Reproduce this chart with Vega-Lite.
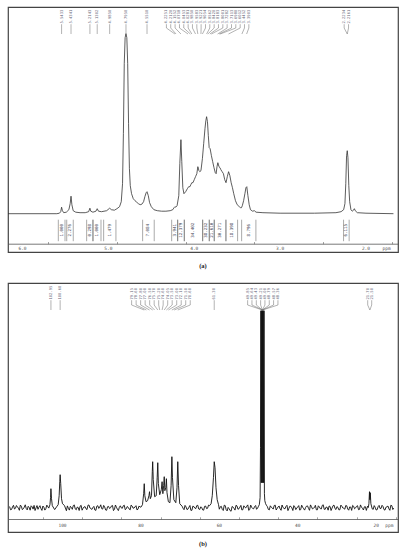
{
  "$schema": "https://vega.github.io/schema/vega-lite/v6.json",
  "padding": {"left": 7, "top": 6, "right": 0, "bottom": 0},
  "background": "white",
  "config": {
    "view": {"stroke": "#444", "strokeWidth": 1.2},
    "title": {"font": "Liberation Serif", "fontWeight": "bold", "fontSize": 6.5, "color": "#222"}
  },
  "spacing": 11,
  "datasets": {
    "specA": [
      {"p":6.17,"v":0},{"p":5.6,"v":0},{"p":5.57,"v":0.5},{"p":5.555,"v":2},{"p":5.545,"v":6.5},{"p":5.535,"v":3},{"p":5.52,"v":1},{"p":5.49,"v":1.5},{"p":5.46,"v":4},{"p":5.445,"v":10},{"p":5.435,"v":17.5},{"p":5.425,"v":9},{"p":5.41,"v":3},{"p":5.38,"v":1.5},{"p":5.33,"v":1},{"p":5.27,"v":1},{"p":5.23,"v":2},{"p":5.215,"v":5.5},{"p":5.205,"v":2.5},{"p":5.18,"v":1.5},{"p":5.145,"v":2.5},{"p":5.13,"v":5},{"p":5.115,"v":2.5},{"p":5.08,"v":2},{"p":5.02,"v":3},{"p":4.985,"v":5.5},{"p":4.965,"v":4},{"p":4.93,"v":3.5},{"p":4.9,"v":5},{"p":4.87,"v":7},{"p":4.85,"v":12},{"p":4.835,"v":30},{"p":4.825,"v":80},{"p":4.815,"v":150},{"p":4.805,"v":176},{"p":4.795,"v":180},{"p":4.785,"v":176},{"p":4.775,"v":150},{"p":4.765,"v":90},{"p":4.755,"v":45},{"p":4.745,"v":28},{"p":4.73,"v":20},{"p":4.71,"v":15},{"p":4.69,"v":13},{"p":4.67,"v":11.5},{"p":4.65,"v":10},{"p":4.63,"v":9},{"p":4.61,"v":9.5},{"p":4.59,"v":12},{"p":4.575,"v":17},{"p":4.56,"v":21},{"p":4.55,"v":22},{"p":4.535,"v":18},{"p":4.52,"v":11},{"p":4.5,"v":7},{"p":4.47,"v":4},{"p":4.43,"v":3},{"p":4.38,"v":2.5},{"p":4.33,"v":2.5},{"p":4.28,"v":3},{"p":4.25,"v":4},{"p":4.235,"v":6},{"p":4.225,"v":7},{"p":4.215,"v":6.5},{"p":4.2,"v":8},{"p":4.18,"v":18},{"p":4.168,"v":50},{"p":4.155,"v":74},{"p":4.145,"v":52},{"p":4.133,"v":26},{"p":4.12,"v":20},{"p":4.1,"v":22},{"p":4.08,"v":25},{"p":4.065,"v":27},{"p":4.05,"v":27},{"p":4.04,"v":29},{"p":4.028,"v":31},{"p":4.015,"v":31},{"p":4.0,"v":34},{"p":3.985,"v":37},{"p":3.97,"v":40},{"p":3.958,"v":47},{"p":3.945,"v":43},{"p":3.935,"v":42},{"p":3.922,"v":43},{"p":3.905,"v":55},{"p":3.89,"v":70},{"p":3.875,"v":85},{"p":3.865,"v":93},{"p":3.856,"v":97},{"p":3.846,"v":92},{"p":3.836,"v":78},{"p":3.826,"v":66},{"p":3.815,"v":65},{"p":3.8,"v":58},{"p":3.785,"v":52},{"p":3.77,"v":46},{"p":3.755,"v":41},{"p":3.745,"v":40},{"p":3.735,"v":47},{"p":3.725,"v":51},{"p":3.712,"v":47},{"p":3.7,"v":46},{"p":3.69,"v":44},{"p":3.675,"v":42},{"p":3.66,"v":40},{"p":3.645,"v":34},{"p":3.63,"v":31},{"p":3.615,"v":37},{"p":3.6,"v":42},{"p":3.585,"v":38},{"p":3.57,"v":31},{"p":3.555,"v":26},{"p":3.54,"v":20},{"p":3.52,"v":13},{"p":3.5,"v":9},{"p":3.475,"v":7},{"p":3.46,"v":6},{"p":3.45,"v":6},{"p":3.44,"v":8},{"p":3.425,"v":13},{"p":3.41,"v":20},{"p":3.398,"v":26},{"p":3.388,"v":27},{"p":3.375,"v":18},{"p":3.36,"v":9},{"p":3.345,"v":4},{"p":3.32,"v":2.5},{"p":3.3,"v":3},{"p":3.28,"v":1.5},{"p":3.2,"v":1},{"p":3.0,"v":0.5},{"p":2.6,"v":0.5},{"p":2.35,"v":1},{"p":2.29,"v":2},{"p":2.26,"v":4},{"p":2.245,"v":10},{"p":2.235,"v":30},{"p":2.226,"v":58},{"p":2.218,"v":63},{"p":2.21,"v":56},{"p":2.2,"v":28},{"p":2.19,"v":12},{"p":2.175,"v":4},{"p":2.16,"v":2.5},{"p":2.145,"v":3.5},{"p":2.135,"v":5},{"p":2.125,"v":3},{"p":2.1,"v":1},{"p":2.0,"v":0.5},{"p":1.68,"v":0}
    ],
    "labA": [
      {"lx":5.545,"px":5.545,"t":"5.5433"},{"lx":5.435,"px":5.435,"t":"5.4341"},{"lx":5.215,"px":5.215,"t":"5.2143"},{"lx":5.13,"px":5.13,"t":"5.1302"},{"lx":4.985,"px":4.985,"t":"4.9850"},{"lx":4.795,"px":4.795,"t":"4.7950"},{"lx":4.55,"px":4.55,"t":"4.5510"},
      {"lx":4.324,"px":4.225,"t":"4.2251"},{"lx":4.274,"px":4.212,"t":"4.2120"},{"lx":4.223,"px":4.155,"t":"4.1552"},{"lx":4.172,"px":4.072,"t":"4.0718"},{"lx":4.122,"px":4.045,"t":"4.0453"},{"lx":4.071,"px":4.028,"t":"4.0281"},{"lx":4.021,"px":3.985,"t":"3.9850"},{"lx":3.97,"px":3.958,"t":"3.9583"},{"lx":3.92,"px":3.922,"t":"3.9221"},{"lx":3.869,"px":3.905,"t":"3.9054"},{"lx":3.819,"px":3.856,"t":"3.8562"},{"lx":3.768,"px":3.842,"t":"3.8420"},{"lx":3.718,"px":3.818,"t":"3.8183"},{"lx":3.667,"px":3.8,"t":"3.8001"},{"lx":3.617,"px":3.728,"t":"3.7282"},{"lx":3.566,"px":3.711,"t":"3.7113"},{"lx":3.516,"px":3.698,"t":"3.6980"},{"lx":3.465,"px":3.601,"t":"3.6012"},{"lx":3.415,"px":3.445,"t":"3.4452"},{"lx":3.364,"px":3.39,"t":"3.3903"},
      {"lx":2.254,"px":2.218,"t":"2.2234"},{"lx":2.203,"px":2.218,"t":"2.2161"}
    ],
    "intA": [
      {"a":5.583,"b":5.505,"m":5.544,"t":"1.000"},{"a":5.485,"b":5.409,"m":5.447,"t":"2.276"},{"a":5.253,"b":5.183,"m":5.218,"t":"0.298"},{"a":5.176,"b":5.086,"m":5.131,"t":"1.000"},{"a":5.055,"b":4.912,"m":4.984,"t":"1.479"},{"a":4.601,"b":4.466,"m":4.534,"t":"7.084"},{"a":4.263,"b":4.193,"m":4.228,"t":"3.941"},{"a":4.193,"b":4.116,"m":4.155,"t":"12.379"},{"a":4.116,"b":3.902,"m":4.009,"t":"34.402"},{"a":3.902,"b":3.825,"m":3.864,"t":"38.232"},{"a":3.825,"b":3.767,"m":3.796,"t":"21.610"},{"a":3.767,"b":3.631,"m":3.699,"t":"30.271"},{"a":3.631,"b":3.495,"m":3.563,"t":"18.398"},{"a":3.448,"b":3.282,"m":3.365,"t":"8.796"},{"a":2.261,"b":2.196,"m":2.229,"t":"6.115"}
    ],
    "axA": [
      {"p":6.0,"t":"6.0"},{"p":5.0,"t":"5.0"},{"p":4.0,"t":"4.0"},{"p":3.0,"t":"3.0"},{"p":2.0,"t":"2.0"},{"p":1.76,"t":"ppm"}
    ],
    "axB": [
      {"p":100,"t":"100"},{"p":80,"t":"80"},{"p":60,"t":"60"},{"p":40,"t":"40"},{"p":20,"t":"20"},{"p":16.65,"t":"ppm"}
    ],
    "specB": [
      {"p":113.5,"v":1.2},{"p":113.0,"v":-1.8},{"p":112.5,"v":2.4},{"p":112.0,"v":-0.6},{"p":111.5,"v":0.8},{"p":111.0,"v":-2.6},{"p":110.5,"v":1.5},{"p":110.0,"v":-1.1},{"p":109.5,"v":2.9},{"p":109.0,"v":-2.2},{"p":108.5,"v":0.3},{"p":108.0,"v":1.9},{"p":107.5,"v":-1.4},{"p":107.0,"v":-2.8},{"p":106.5,"v":2.1},{"p":106.0,"v":0.6},{"p":105.5,"v":-0.9},{"p":105.0,"v":1.7},{"p":104.5,"v":-2.4},{"p":104.0,"v":2.6},{"p":103.5,"v":-0.4},{"p":103.2,"v":3},{"p":103.05,"v":10},{"p":102.95,"v":19},{"p":102.8,"v":9},{"p":102.6,"v":2},{"p":102.0,"v":-1.9},{"p":101.5,"v":0.9},{"p":101.1,"v":3},{"p":100.85,"v":12},{"p":100.7,"v":26},{"p":100.6,"v":33},{"p":100.45,"v":24},{"p":100.25,"v":9},{"p":100.0,"v":4},{"p":99.5,"v":2.2},{"p":99.0,"v":-3.0},{"p":98.5,"v":-0.7},{"p":98.0,"v":1.4},{"p":97.5,"v":-1.6},{"p":97.0,"v":2.8},{"p":96.5,"v":-2.1},{"p":96.0,"v":0.2},{"p":95.5,"v":1.6},{"p":95.0,"v":-2.5},{"p":94.5,"v":0.7},{"p":94.0,"v":-1.2},{"p":93.5,"v":2.5},{"p":93.0,"v":-0.3},{"p":92.5,"v":-1.7},{"p":92.0,"v":1.3},{"p":91.5,"v":-2.7},{"p":91.0,"v":2.0},{"p":90.5,"v":0.5},{"p":90.0,"v":-1.0},{"p":89.5,"v":2.3},{"p":89.0,"v":-2.3},{"p":88.5,"v":1.0},{"p":88.0,"v":-0.8},{"p":87.5,"v":1.8},{"p":87.0,"v":-2.9},{"p":86.5,"v":2.7},{"p":86.0,"v":-1.5},{"p":85.5,"v":0.4},{"p":85.0,"v":-0.2},{"p":84.5,"v":1.9},{"p":84.0,"v":-2.0},{"p":83.5,"v":1.2},{"p":83.0,"v":-1.3},{"p":82.5,"v":2.6},{"p":82.0,"v":-0.5},{"p":81.5,"v":0.9},{"p":81.0,"v":-2.2},{"p":80.5,"v":1.6},{"p":80.0,"v":0.5},
      {"p":79.6,"v":3},{"p":79.3,"v":14},{"p":79.15,"v":24},{"p":79.0,"v":12},{"p":78.7,"v":6},{"p":78.3,"v":7},{"p":77.95,"v":12},{"p":77.8,"v":16},{"p":77.6,"v":9},{"p":77.3,"v":12},{"p":77.1,"v":36},{"p":77.0,"v":46},{"p":76.85,"v":28},{"p":76.5,"v":11},{"p":76.1,"v":12},{"p":75.85,"v":30},{"p":75.7,"v":45},{"p":75.55,"v":24},{"p":75.2,"v":13},{"p":74.8,"v":18},{"p":74.6,"v":26},{"p":74.4,"v":14},{"p":74.2,"v":22},{"p":74.05,"v":31},{"p":73.9,"v":17},{"p":73.65,"v":20},{"p":73.5,"v":29},{"p":73.35,"v":15},{"p":73.0,"v":6},{"p":72.6,"v":5},{"p":72.3,"v":22},{"p":72.1,"v":51},{"p":71.95,"v":30},{"p":71.6,"v":8},{"p":71.1,"v":5},{"p":70.8,"v":20},{"p":70.6,"v":46},{"p":70.4,"v":22},{"p":70.1,"v":4},{"p":69.5,"v":1.5},{"p":69.0,"v":-2.0},{"p":68.5,"v":0.8},{"p":68.0,"v":-1.4},{"p":67.5,"v":2.2},{"p":67.0,"v":-2.6},{"p":66.5,"v":1.1},{"p":66.0,"v":-0.9},{"p":65.5,"v":2.4},{"p":65.0,"v":-1.8},{"p":64.5,"v":0.3},{"p":64.0,"v":-2.5},{"p":63.5,"v":1.7},{"p":63.0,"v":-0.6},{"p":62.5,"v":2.0},{"p":62.1,"v":4},{"p":61.8,"v":12},{"p":61.5,"v":30},{"p":61.3,"v":46},{"p":61.1,"v":40},{"p":60.85,"v":20},{"p":60.55,"v":8},{"p":60.2,"v":3},{"p":60.0,"v":-1.5},{"p":59.5,"v":1.4},{"p":59.0,"v":-2.8},{"p":58.5,"v":2.1},{"p":58.0,"v":-3.2},{"p":57.5,"v":-1.0},{"p":57.0,"v":-3.5},{"p":56.5,"v":0.6},{"p":56.0,"v":-2.4},{"p":55.5,"v":1.8},{"p":55.0,"v":-1.1},{"p":54.5,"v":2.3},{"p":54.0,"v":-2.0},{"p":53.5,"v":0.4},{"p":53.0,"v":1.5},{"p":52.5,"v":-2.7},{"p":52.0,"v":2.6},{"p":51.5,"v":-0.8},{"p":51.0,"v":1.2},{"p":50.5,"v":-1.6},{"p":50.0,"v":1.5},{"p":49.8,"v":3},{"p":49.6,"v":10},{"p":49.5,"v":60},{"p":49.4,"v":197},{"p":49.3,"v":25},{"p":49.2,"v":197},{"p":49.1,"v":25},{"p":49.0,"v":197},{"p":48.9,"v":25},{"p":48.8,"v":197},{"p":48.7,"v":25},{"p":48.6,"v":197},{"p":48.5,"v":14},{"p":48.4,"v":7},{"p":48.2,"v":4},{"p":48.0,"v":2.5},{"p":47.5,"v":-1.7},{"p":47.0,"v":1.9},{"p":46.5,"v":-0.4},{"p":46.0,"v":2.2},{"p":45.5,"v":-2.3},{"p":45.0,"v":0.9},{"p":44.5,"v":-1.2},{"p":44.0,"v":2.7},{"p":43.5,"v":-0.7},{"p":43.0,"v":1.3},{"p":42.5,"v":-2.9},{"p":42.0,"v":1.6},{"p":41.5,"v":-0.2},{"p":41.0,"v":2.1},{"p":40.5,"v":-1.9},{"p":40.0,"v":0.7},{"p":39.5,"v":-2.4},{"p":39.0,"v":2.5},{"p":38.5,"v":-1.0},{"p":38.0,"v":0.2},{"p":37.5,"v":1.8},{"p":37.0,"v":-2.6},{"p":36.5,"v":1.0},{"p":36.0,"v":-0.5},{"p":35.5,"v":2.4},{"p":35.0,"v":-2.1},{"p":34.5,"v":0.8},{"p":34.0,"v":-1.3},{"p":33.5,"v":2.9},{"p":33.0,"v":-1.6},{"p":32.5,"v":0.4},{"p":32.0,"v":1.7},{"p":31.5,"v":-2.8},{"p":31.0,"v":2.0},{"p":30.5,"v":-0.9},{"p":30.0,"v":1.1},{"p":29.5,"v":-2.2},{"p":29.0,"v":2.6},{"p":28.5,"v":-0.3},{"p":28.0,"v":-1.5},{"p":27.5,"v":1.9},{"p":27.0,"v":-2.5},{"p":26.5,"v":0.6},{"p":26.0,"v":2.3},{"p":25.5,"v":-1.1},{"p":25.0,"v":1.4},{"p":24.5,"v":-2.0},{"p":24.0,"v":2.8},{"p":23.5,"v":-0.6},{"p":23.0,"v":0.9},{"p":22.5,"v":-2.7},{"p":22.2,"v":1.5},{"p":22.0,"v":0.2},{"p":21.85,"v":4},{"p":21.7,"v":16},{"p":21.6,"v":8},{"p":21.5,"v":15},{"p":21.35,"v":4},{"p":21.0,"v":-1.2},{"p":20.5,"v":2.1},{"p":20.0,"v":-2.3},{"p":19.5,"v":1.0},{"p":19.0,"v":-0.8},{"p":18.5,"v":2.4},{"p":18.0,"v":-1.9},{"p":17.5,"v":0.5},{"p":17.0,"v":1.7},{"p":16.5,"v":-2.6},{"p":16.0,"v":2.0},{"p":15.5,"v":-0.4},
      {"p":113.25,"v":-2.1},{"p":112.75,"v":0.7},{"p":112.25,"v":-1.3},{"p":111.75,"v":2.2},{"p":111.25,"v":-0.4},{"p":110.75,"v":2.6},{"p":110.25,"v":-1.9},{"p":109.75,"v":0.5},{"p":109.25,"v":-0.8},{"p":108.75,"v":1.4},{"p":108.25,"v":-2.5},{"p":107.75,"v":0.9},{"p":107.25,"v":2.3},{"p":106.75,"v":-0.2},{"p":106.25,"v":-1.6},{"p":105.75,"v":2.0},{"p":105.25,"v":-2.7},{"p":104.75,"v":0.4},{"p":104.25,"v":-1.0},
      {"p":98.75,"v":1.8},{"p":98.25,"v":-2.4},{"p":97.75,"v":0.3},{"p":97.25,"v":2.1},{"p":96.75,"v":-1.2},{"p":96.25,"v":0.6},{"p":95.75,"v":-2.8},{"p":95.25,"v":2.4},{"p":94.75,"v":-0.5},{"p":94.25,"v":1.1},{"p":93.75,"v":-1.9},{"p":93.25,"v":2.7},{"p":92.75,"v":-0.9},{"p":92.25,"v":0.2},{"p":91.75,"v":-2.3},{"p":91.25,"v":1.5},{"p":90.75,"v":-0.7},{"p":90.25,"v":2.9},{"p":89.75,"v":-1.4},{"p":89.25,"v":0.8},{"p":88.75,"v":-2.6},{"p":88.25,"v":1.3},{"p":87.75,"v":-0.1},{"p":87.25,"v":2.2},{"p":86.75,"v":-1.7},{"p":86.25,"v":0.5},{"p":85.75,"v":-2.9},{"p":85.25,"v":1.9},{"p":84.75,"v":-0.6},{"p":84.25,"v":2.5},{"p":83.75,"v":-1.1},{"p":83.25,"v":0.4},{"p":82.75,"v":-2.2},{"p":82.25,"v":1.7},{"p":81.75,"v":-0.3},{"p":81.25,"v":2.0},{"p":80.75,"v":-1.5},{"p":80.25,"v":0.9},
      {"p":69.25,"v":-0.6},{"p":68.75,"v":2.3},{"p":68.25,"v":-1.9},{"p":67.75,"v":0.5},{"p":67.25,"v":-2.7},{"p":66.75,"v":1.6},{"p":66.25,"v":-0.4},{"p":65.75,"v":2.1},{"p":65.25,"v":-1.3},{"p":64.75,"v":0.8},{"p":64.25,"v":-2.2},{"p":63.75,"v":1.4},{"p":63.25,"v":-0.9},{"p":62.75,"v":2.6},
      {"p":59.75,"v":0.9},{"p":59.25,"v":-1.7},{"p":58.75,"v":2.5},{"p":58.25,"v":-2.1},{"p":57.75,"v":0.3},{"p":57.25,"v":-2.9},{"p":56.75,"v":1.2},{"p":56.25,"v":-0.7},{"p":55.75,"v":2.4},{"p":55.25,"v":-1.5},{"p":54.75,"v":0.6},{"p":54.25,"v":-2.3},{"p":53.75,"v":1.9},{"p":53.25,"v":-0.2},{"p":52.75,"v":2.8},{"p":52.25,"v":-1.8},{"p":51.75,"v":0.4},{"p":51.25,"v":-1.1},{"p":50.75,"v":2.2},{"p":50.25,"v":-0.5},
      {"p":47.75,"v":1.1},{"p":47.25,"v":-2.2},{"p":46.75,"v":0.6},{"p":46.25,"v":-1.4},{"p":45.75,"v":2.6},{"p":45.25,"v":-0.8},{"p":44.75,"v":1.7},{"p":44.25,"v":-2.6},{"p":43.75,"v":0.2},{"p":43.25,"v":-1.1},{"p":42.75,"v":2.4},{"p":42.25,"v":-0.6},{"p":41.75,"v":1.3},{"p":41.25,"v":-2.8},{"p":40.75,"v":0.9},{"p":40.25,"v":-0.3},{"p":39.75,"v":2.1},{"p":39.25,"v":-1.9},{"p":38.75,"v":0.5},{"p":38.25,"v":-2.4},{"p":37.75,"v":1.6},{"p":37.25,"v":-0.7},{"p":36.75,"v":2.8},{"p":36.25,"v":-1.2},{"p":35.75,"v":0.1},{"p":35.25,"v":-2.1},{"p":34.75,"v":1.9},{"p":34.25,"v":-0.9},{"p":33.75,"v":2.3},{"p":33.25,"v":-1.6},{"p":32.75,"v":0.7},{"p":32.25,"v":-2.5},{"p":31.75,"v":1.2},{"p":31.25,"v":-0.4},{"p":30.75,"v":2.6},{"p":30.25,"v":-1.8},{"p":29.75,"v":0.3},{"p":29.25,"v":-2.0},{"p":28.75,"v":1.5},{"p":28.25,"v":-0.6},{"p":27.75,"v":2.2},{"p":27.25,"v":-1.3},{"p":26.75,"v":0.8},{"p":26.25,"v":-2.7},{"p":25.75,"v":1.4},{"p":25.25,"v":-0.2},{"p":24.75,"v":2.0},{"p":24.25,"v":-1.7},{"p":23.75,"v":0.6},{"p":23.25,"v":-2.3},{"p":22.75,"v":1.0},
      {"p":20.75,"v":-1.6},{"p":20.25,"v":0.4},{"p":19.75,"v":-2.0},{"p":19.25,"v":2.3},{"p":18.75,"v":-0.7},{"p":18.25,"v":1.2},{"p":17.75,"v":-2.4},{"p":17.25,"v":0.9},{"p":16.75,"v":-1.1},{"p":16.25,"v":2.5},{"p":15.75,"v":-1.8}
    ],
    "labB": [
      {"lx":102.95,"px":102.95,"t":"102.95"},{"lx":100.6,"px":100.6,"t":"100.60"},
      {"lx":82.37,"px":79.15,"t":"79.15"},{"lx":81.22,"px":78.6,"t":"78.60"},{"lx":80.07,"px":77.8,"t":"77.80"},{"lx":78.92,"px":77.0,"t":"77.00"},{"lx":77.77,"px":76.5,"t":"76.50"},{"lx":76.62,"px":75.7,"t":"75.70"},{"lx":75.47,"px":75.2,"t":"75.20"},{"lx":74.32,"px":74.6,"t":"74.60"},{"lx":73.17,"px":74.05,"t":"74.05"},{"lx":72.02,"px":73.5,"t":"73.50"},{"lx":70.87,"px":73.0,"t":"73.00"},{"lx":69.72,"px":72.1,"t":"72.10"},{"lx":68.57,"px":71.5,"t":"71.50"},{"lx":67.42,"px":70.6,"t":"70.60"},
      {"lx":61.3,"px":61.3,"t":"61.30"},
      {"lx":52.78,"px":49.0,"t":"49.85"},{"lx":51.68,"px":49.0,"t":"49.64"},{"lx":50.57,"px":49.0,"t":"49.43"},{"lx":49.47,"px":49.0,"t":"49.21"},{"lx":48.37,"px":49.0,"t":"49.00"},{"lx":47.26,"px":49.0,"t":"48.79"},{"lx":46.16,"px":49.0,"t":"48.57"},{"lx":45.05,"px":49.0,"t":"48.36"},
      {"lx":22.16,"px":21.6,"t":"21.70"},{"lx":21.14,"px":21.6,"t":"21.50"}
    ]
  },
  "vconcat": [
    {
      "width": 390,
      "height": 245,
      "title": {"text": "(a)", "orient": "bottom", "offset": 11},
      "layer": [
        {
          "data": {"name": "specA"},
          "mark": {"type": "line", "stroke": "#333", "strokeWidth": 0.8, "clip": true},
          "encoding": {
            "x": {"field": "p", "type": "quantitative", "title": null,
              "scale": {"domain": [1.627, 6.169], "reverse": true, "nice": false, "zero": false},
              "axis": {"orient": "bottom", "offset": -8.3, "title": null, "grid": false, "labels": false,
                "values": [6.1,6.0,5.9,5.8,5.7,5.6,5.5,5.4,5.3,5.2,5.1,5.0,4.9,4.8,4.7,4.6,4.5,4.4,4.3,4.2,4.1,4.0,3.9,3.8,3.7,3.6,3.5,3.4,3.3,3.2,3.1,3.0,2.9,2.8,2.7,2.6,2.5,2.4,2.3,2.2,2.1,2.0,1.9,1.8,1.7],
                "tickSize": -2.2, "tickColor": "#666", "tickWidth": 0.6, "domainColor": "#555", "domainWidth": 0.8}},
            "y": {"field": "v", "type": "quantitative", "axis": null,
              "scale": {"domain": [-38.3, 206.7], "nice": false, "zero": false}},
            "order": {"field": "p", "sort": "descending"}
          }
        },
        {
          "data": {"name": "labA"},
          "mark": {"type": "text", "angle": 270, "align": "left", "baseline": "middle", "fontSize": 3.8, "font": "DejaVu Sans Mono", "color": "#667"},
          "encoding": {
            "x": {"field": "lx", "type": "quantitative", "title": null},
            "y": {"datum": 190.2, "axis": null},
            "text": {"field": "t"}
          }
        },
        {
          "data": {"name": "labA"},
          "mark": {"type": "rule", "stroke": "#666", "strokeWidth": 0.5},
          "encoding": {
            "x": {"field": "lx", "type": "quantitative", "title": null},
            "y": {"datum": 189.5, "axis": null},
            "y2": {"datum": 185.7}
          }
        },
        {
          "data": {"name": "labA"},
          "mark": {"type": "rule", "stroke": "#666", "strokeWidth": 0.5},
          "encoding": {
            "x": {"field": "lx", "type": "quantitative", "title": null},
            "x2": {"field": "px"},
            "y": {"datum": 185.7, "axis": null},
            "y2": {"datum": 179.7}
          }
        },
        {
          "data": {"name": "intA"},
          "mark": {"type": "rule", "stroke": "#555", "strokeWidth": 0.5},
          "encoding": {
            "x": {"field": "a", "type": "quantitative", "title": null},
            "y": {"datum": -6, "axis": null},
            "y2": {"datum": -27.5}
          }
        },
        {
          "data": {"name": "intA"},
          "mark": {"type": "rule", "stroke": "#555", "strokeWidth": 0.5},
          "encoding": {
            "x": {"field": "b", "type": "quantitative", "title": null},
            "y": {"datum": -6, "axis": null},
            "y2": {"datum": -27.5}
          }
        },
        {
          "data": {"name": "intA"},
          "mark": {"type": "text", "angle": 270, "align": "center", "baseline": "middle", "fontSize": 4.2, "font": "DejaVu Sans Mono", "color": "#445"},
          "encoding": {
            "x": {"field": "m", "type": "quantitative", "title": null},
            "y": {"datum": -16.5, "axis": null},
            "text": {"field": "t"}
          }
        },
        {
          "data": {"name": "axA"},
          "mark": {"type": "text", "fontSize": 4.5, "font": "DejaVu Sans Mono", "color": "#555", "baseline": "middle"},
          "encoding": {
            "x": {"field": "p", "type": "quantitative", "title": null},
            "y": {"datum": -35.3, "axis": null},
            "text": {"field": "t"}
          }
        }
      ]
    },
    {
      "width": 390,
      "height": 249,
      "title": {"text": "(b)", "orient": "bottom", "offset": 9},
      "layer": [
        {
          "data": {"name": "specB"},
          "mark": {"type": "line", "stroke": "#111", "strokeWidth": 0.9, "clip": true},
          "encoding": {
            "x": {"field": "p", "type": "quantitative", "title": null,
              "scale": {"domain": [14.43, 113.9], "reverse": true, "nice": false, "zero": false},
              "axis": {"orient": "bottom", "offset": -13, "title": null, "grid": false, "labels": false,
                "values": [110,105,100,95,90,85,80,75,70,65,60,55,50,45,40,35,30,25,20,15],
                "tickSize": -2.2, "tickColor": "#666", "tickWidth": 0.6, "domainColor": "#555", "domainWidth": 0.8}},
            "y": {"field": "v", "type": "quantitative", "axis": null,
              "scale": {"domain": [-24.3, 224.7], "nice": false, "zero": false}},
            "order": {"field": "p", "sort": "descending"}
          }
        },
        {
          "data": {"name": "labB"},
          "mark": {"type": "text", "angle": 270, "align": "left", "baseline": "middle", "fontSize": 3.8, "font": "DejaVu Sans Mono", "color": "#667"},
          "encoding": {
            "x": {"field": "lx", "type": "quantitative", "title": null},
            "y": {"datum": 208.2, "axis": null},
            "text": {"field": "t"}
          }
        },
        {
          "data": {"name": "labB"},
          "mark": {"type": "rule", "stroke": "#666", "strokeWidth": 0.5},
          "encoding": {
            "x": {"field": "lx", "type": "quantitative", "title": null},
            "y": {"datum": 207.5, "axis": null},
            "y2": {"datum": 202.7}
          }
        },
        {
          "data": {"name": "labB"},
          "mark": {"type": "rule", "stroke": "#666", "strokeWidth": 0.5},
          "encoding": {
            "x": {"field": "lx", "type": "quantitative", "title": null},
            "x2": {"field": "px"},
            "y": {"datum": 202.7, "axis": null},
            "y2": {"datum": 197.7}
          }
        },
        {
          "data": {"name": "axB"},
          "mark": {"type": "text", "fontSize": 4.5, "font": "DejaVu Sans Mono", "color": "#555", "baseline": "middle"},
          "encoding": {
            "x": {"field": "p", "type": "quantitative", "title": null},
            "y": {"datum": -18.3, "axis": null},
            "text": {"field": "t"}
          }
        }
      ]
    }
  ]
}
